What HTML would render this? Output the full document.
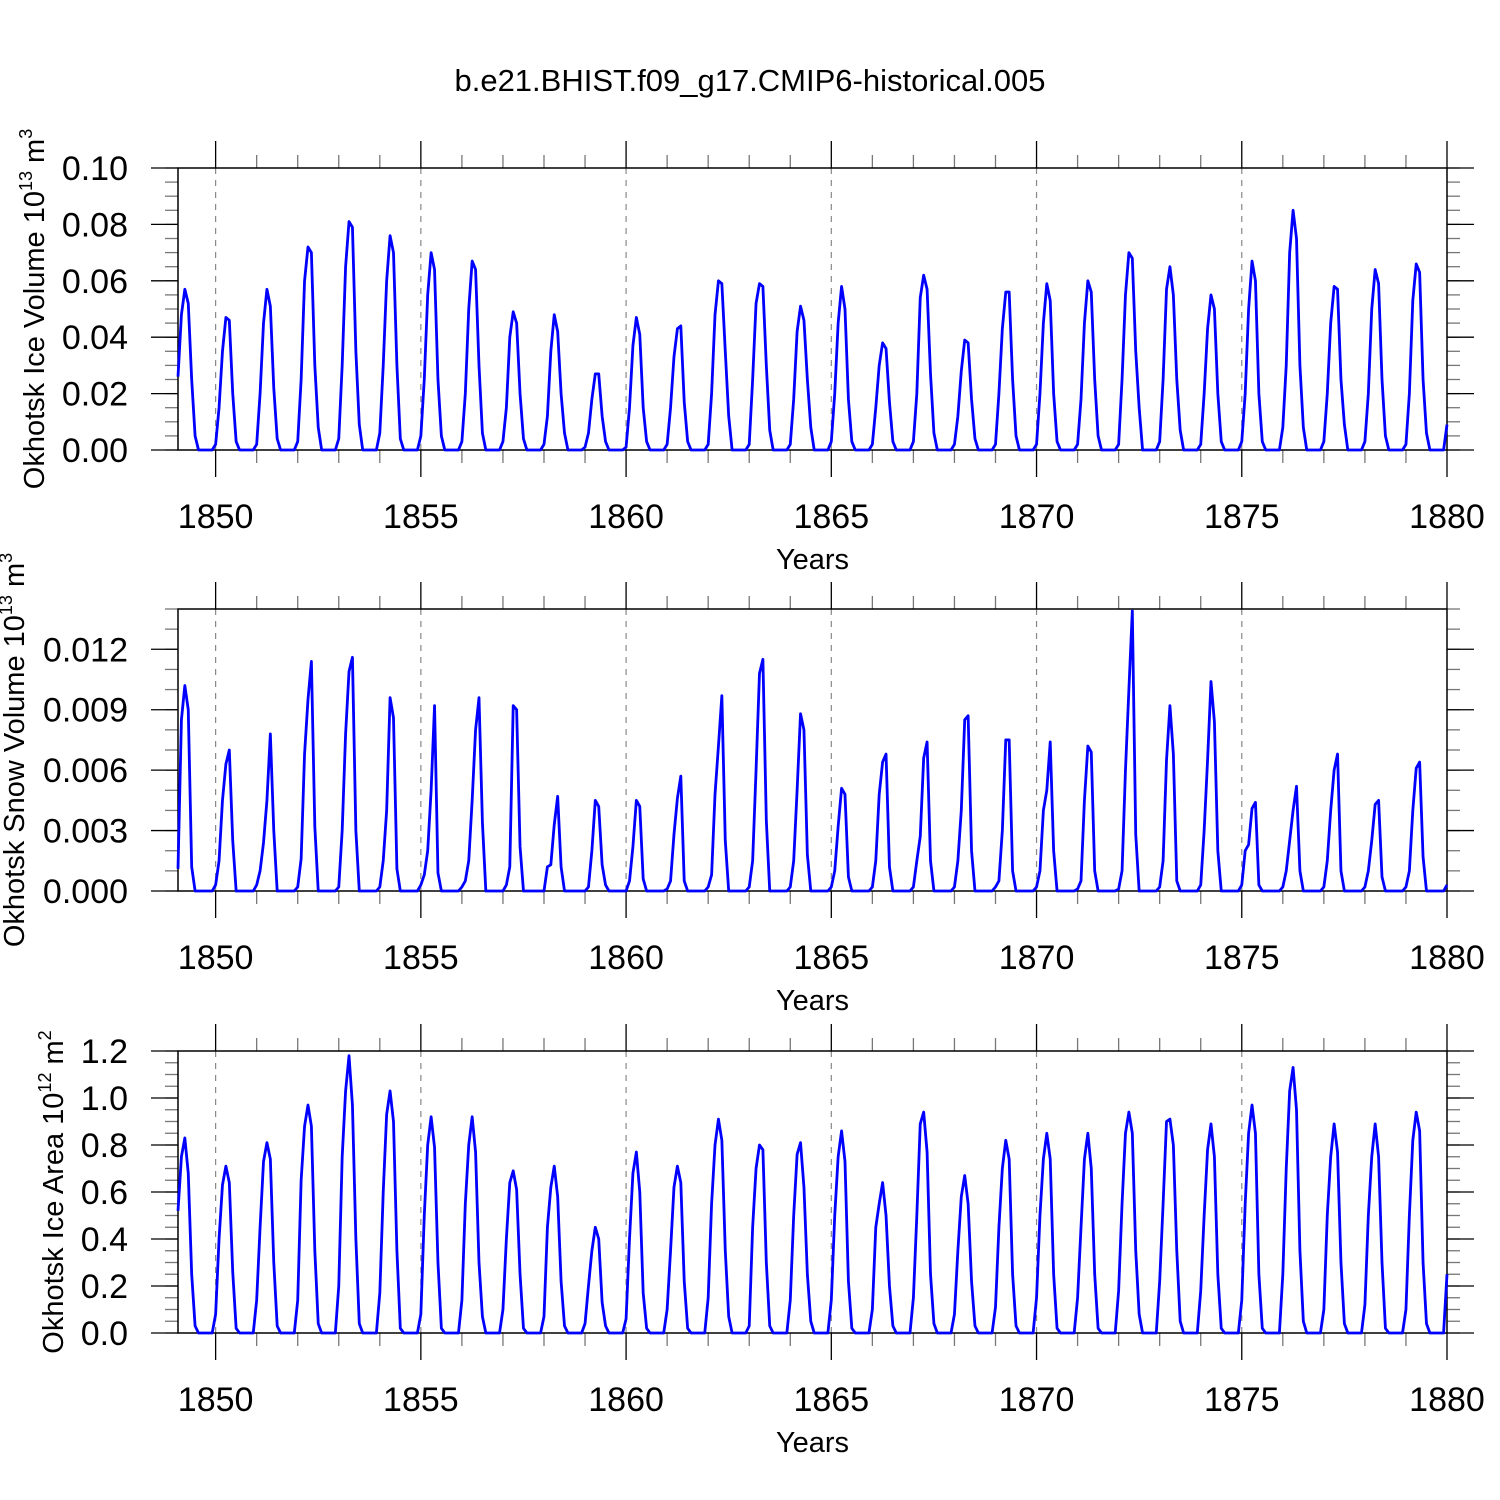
<!DOCTYPE html>
<html><head><meta charset="utf-8"><style>
html,body{margin:0;padding:0;background:#fff;}
svg{display:block;font-family:"Liberation Sans",sans-serif;}
</style></head><body>
<svg id="chart" width="1500" height="1500" viewBox="0 0 1500 1500" xmlns="http://www.w3.org/2000/svg">
<text x="750" y="91" font-size="31" text-anchor="middle">b.e21.BHIST.f09_g17.CMIP6-historical.005</text>
</svg>
<script>
const years = [1849,1850,1851,1852,1853,1854,1855,1856,1857,1858,1859,1860,1861,1862,1863,1864,1865,1866,1867,1868,1869,1870,1871,1872,1873,1874,1875,1876,1877,1878,1879];
const xTickLabels = [1850,1855,1860,1865,1870,1875,1880];
const iceVolume = [
[.026,.048,.057,.052,.025,.005,0,0,0,0,0,.002],
[.015,.035,.047,.046,.020,.003,0,0,0,0,0,.002],
[.020,.045,.057,.051,.022,.004,0,0,0,0,0,.003],
[.025,.060,.072,.070,.030,.008,0,0,0,0,0,.004],
[.030,.065,.081,.079,.035,.009,0,0,0,0,0,.006],
[.030,.060,.076,.070,.030,.004,0,0,0,0,0,.005],
[.025,.055,.070,.064,.025,.005,0,0,0,0,0,.003],
[.020,.050,.067,.064,.030,.006,0,0,0,0,0,.003],
[.015,.040,.049,.045,.020,.004,0,0,0,0,0,.002],
[.012,.035,.048,.042,.020,.006,0,0,0,0,0,.001],
[.006,.018,.027,.027,.012,.003,0,0,0,0,0,.001],
[.015,.037,.047,.041,.015,.003,0,0,0,0,0,.002],
[.015,.033,.043,.044,.017,.003,0,0,0,0,0,.002],
[.020,.048,.060,.059,.035,.012,0,0,0,0,0,.002],
[.025,.052,.059,.058,.030,.007,0,0,0,0,0,.002],
[.018,.042,.051,.046,.025,.008,0,0,0,0,0,.003],
[.020,.045,.058,.050,.018,.003,0,0,0,0,0,.002],
[.015,.030,.038,.036,.017,.003,0,0,0,0,0,.003],
[.020,.054,.062,.057,.027,.006,0,0,0,0,0,.002],
[.012,.028,.039,.038,.018,.004,0,0,0,0,0,.002],
[.020,.043,.056,.056,.025,.005,0,0,0,0,0,.002],
[.020,.045,.059,.053,.020,.003,0,0,0,0,0,.002],
[.018,.045,.060,.056,.025,.005,0,0,0,0,0,.002],
[.025,.055,.070,.068,.035,.015,0,0,0,0,0,.003],
[.025,.057,.065,.055,.025,.007,0,0,0,0,0,.002],
[.020,.043,.055,.050,.020,.003,0,0,0,0,0,.003],
[.020,.050,.067,.060,.020,.003,0,0,0,0,0,.008],
[.030,.070,.085,.075,.030,.008,0,0,0,0,0,.003],
[.020,.045,.058,.057,.025,.009,0,0,0,0,0,.003],
[.020,.050,.064,.059,.025,.005,0,0,0,0,0,.002],
[.020,.053,.066,.063,.025,.006,0,0,0,0,0,.009]];
const snowVolume = [
[.0011,.0085,.0102,.0090,.0012,0,0,0,0,0,0,.0003],
[.0015,.0045,.0063,.0070,.0025,0,0,0,0,0,0,.0003],
[.0010,.0024,.0045,.0078,.0030,0,0,0,0,0,0,.0002],
[.0016,.0068,.0095,.0114,.0032,0,0,0,0,0,0,.0002],
[.0030,.0078,.0109,.0116,.0030,0,0,0,0,0,0,.0002],
[.0015,.0040,.0096,.0086,.0011,0,0,0,0,0,0,.0003],
[.0008,.0020,.0050,.0092,.0009,0,0,0,0,0,0,.0002],
[.0005,.0015,.0045,.0080,.0096,.0034,0,0,0,0,0,0],
[.0003,.0012,.0092,.0090,.0022,0,0,0,0,0,0,0],
[.0012,.0013,.0033,.0047,.0012,0,0,0,0,0,0,0],
[.0002,.0020,.0045,.0042,.0013,.0003,0,0,0,0,0,0],
[.0005,.0022,.0045,.0042,.0006,0,0,0,0,0,0,.0001],
[.0005,.0028,.0046,.0057,.0005,0,0,0,0,0,0,.0002],
[.0008,.0048,.0072,.0097,.0025,0,0,0,0,0,0,.0002],
[.0015,.0060,.0108,.0115,.0035,0,0,0,0,0,0,.0002],
[.0015,.0050,.0088,.0080,.0018,0,0,0,0,0,0,.0002],
[.0010,.0032,.0051,.0048,.0007,0,0,0,0,0,0,.0002],
[.0015,.0048,.0064,.0068,.0012,0,0,0,0,0,0,.0002],
[.0015,.0027,.0066,.0074,.0015,0,0,0,0,0,0,.0002],
[.0015,.0040,.0085,.0087,.0020,0,0,0,0,0,0,.0002],
[.0005,.0030,.0075,.0075,.0010,0,0,0,0,0,0,.0002],
[.0010,.0040,.0050,.0074,.0020,0,0,0,0,0,0,.0001],
[.0005,.0045,.0072,.0069,.0010,0,0,0,0,0,0,.0001],
[.0010,.0060,.0100,.0139,.0028,0,0,0,0,0,0,.0002],
[.0015,.0065,.0092,.0068,.0005,0,0,0,0,0,0,.0003],
[.0030,.0065,.0104,.0084,.0020,0,0,0,0,0,0,.0003],
[.0020,.0023,.0041,.0044,.0003,0,0,0,0,0,0,.0002],
[.0010,.0025,.0040,.0052,.0010,0,0,0,0,0,0,.0002],
[.0015,.0040,.0060,.0068,.0010,0,0,0,0,0,0,.0002],
[.0010,.0025,.0043,.0045,.0007,0,0,0,0,0,0,.0002],
[.0010,.0040,.0061,.0064,.0017,0,0,0,0,0,0,.0003]];
const iceArea = [
[.52,.75,.83,.68,.25,.03,0,0,0,0,0,.08],
[.40,.63,.71,.64,.26,.02,0,0,0,0,0,.14],
[.45,.73,.81,.74,.30,.03,0,0,0,0,0,.14],
[.65,.88,.97,.88,.35,.04,0,0,0,0,0,.20],
[.75,1.03,1.18,.97,.40,.04,0,0,0,0,0,.17],
[.60,.93,1.03,.90,.35,.02,0,0,0,0,0,.08],
[.50,.80,.92,.79,.30,.02,0,0,0,0,0,.14],
[.55,.80,.92,.77,.30,.07,0,0,0,0,0,.10],
[.40,.64,.69,.61,.25,.02,0,0,0,0,0,.07],
[.45,.62,.71,.58,.22,.03,0,0,0,0,0,.04],
[.20,.35,.45,.40,.13,.03,0,0,0,0,0,.06],
[.40,.68,.77,.60,.17,.02,0,0,0,0,0,.10],
[.35,.62,.71,.64,.22,.02,0,0,0,0,0,.15],
[.55,.80,.91,.82,.35,.07,0,0,0,0,0,.03],
[.45,.70,.80,.78,.30,.03,0,0,0,0,0,.14],
[.50,.76,.81,.62,.25,.05,0,0,0,0,0,.14],
[.50,.75,.86,.73,.22,.02,0,0,0,0,0,.10],
[.45,.55,.64,.50,.20,.03,0,0,0,0,0,.15],
[.50,.89,.94,.77,.25,.04,0,0,0,0,0,.08],
[.35,.58,.67,.55,.22,.03,0,0,0,0,0,.11],
[.45,.70,.82,.74,.25,.03,0,0,0,0,0,.15],
[.50,.74,.85,.74,.25,.02,0,0,0,0,0,.15],
[.45,.74,.85,.70,.25,.02,0,0,0,0,0,.18],
[.55,.85,.94,.85,.35,.08,0,0,0,0,0,.22],
[.55,.90,.91,.80,.35,.05,0,0,0,0,0,.18],
[.50,.78,.89,.75,.25,.02,0,0,0,0,0,.14],
[.55,.85,.97,.85,.25,.02,0,0,0,0,0,.25],
[.70,1.03,1.13,.95,.35,.05,0,0,0,0,0,.10],
[.50,.75,.89,.77,.30,.04,0,0,0,0,0,.12],
[.50,.75,.89,.75,.30,.02,0,0,0,0,0,.10],
[.50,.82,.94,.86,.30,.04,0,0,0,0,0,.25]];
const volTicks = [0,0.02,0.04,0.06,0.08,0.10];
const volTickLabels = ["0.00","0.02","0.04","0.06","0.08","0.10"];
const snowTicks = [0,0.003,0.006,0.009,0.012];
const snowTickLabels = ["0.000","0.003","0.006","0.009","0.012"];
const areaTicks = [0,0.2,0.4,0.6,0.8,1.0,1.2];
const areaTickLabels = ["0.0","0.2","0.4","0.6","0.8","1.0","1.2"];

const NS = "http://www.w3.org/2000/svg";
const svg = document.getElementById('chart');
const L = 178, R = 1447, H = 282;
const T0 = 1849 + 1/12, T1 = 1880;
function xScale(t){ return L + (t - T0) / (T1 - T0) * (R - L); }
function mk(tag, attrs, parent){
  const e = document.createElementNS(NS, tag);
  for (const k in attrs) e.setAttribute(k, attrs[k]);
  (parent || svg).appendChild(e);
  return e;
}
const panels = [
  {name:'ice-volume', top:168, ymax:0.10, minor:0.005, ticks:volTicks, labels:volTickLabels, data:iceVolume, titleX:44, title:['Okhotsk Ice Volume 10','13',' m','3']},
  {name:'snow-volume', top:609, ymax:0.014, minor:0.001, ticks:snowTicks, labels:snowTickLabels, data:snowVolume, titleX:24, title:['Okhotsk Snow Volume 10','13',' m','3']},
  {name:'ice-area', top:1051, ymax:1.2, minor:0.05, ticks:areaTicks, labels:areaTickLabels, data:iceArea, titleX:63, title:['Okhotsk Ice Area 10','12',' m','2']}
];
panels.forEach(p => {
  const g = mk('g', {});
  
  
  const B = p.top + H;
  const yScale = v => B - v / p.ymax * H;
  xTickLabels.forEach(yr => {
    const x = xScale(yr);
    if (x > L + 1 && x < R - 1) {
      const gl = mk('line', {x1:x, x2:x, y1:p.top, y2:B, stroke:'#888', 'stroke-width':1.2, 'stroke-dasharray':'6,6'}, g);
      
      
    }
  });
  for (let yr = 1849; yr <= 1880; yr++) {
    const x = xScale(yr);
    if (x < L - 0.5) continue;
    const major = yr % 5 === 0;
    const len = major ? 27 : 13;
    const c = major ? '#000' : '#777';
    mk('line', {x1:x, x2:x, y1:p.top, y2:p.top - len, stroke:c, 'stroke-width':1.3}, g);
    mk('line', {x1:x, x2:x, y1:B, y2:B + len, stroke:c, 'stroke-width':1.3}, g);
  }
  const nMin = Math.round(p.ymax / p.minor);
  for (let i = 0; i <= nMin; i++) {
    const y = yScale(i * p.minor);
    mk('line', {x1:L, x2:L - 13, y1:y, y2:y, stroke:'#777', 'stroke-width':1.3}, g);
    mk('line', {x1:R, x2:R + 13, y1:y, y2:y, stroke:'#777', 'stroke-width':1.3}, g);
  }
  p.ticks.forEach((v, i) => {
    const y = yScale(v);
    mk('line', {x1:L, x2:L - 27, y1:y, y2:y, stroke:'#000', 'stroke-width':1.3}, g);
    mk('line', {x1:R, x2:R + 27, y1:y, y2:y, stroke:'#000', 'stroke-width':1.3}, g);
    const t = mk('text', {x:128, y:y + 12, 'font-size':34, 'text-anchor':'end'}, g);
    
    
    t.textContent = p.labels[i];
  });
  xTickLabels.forEach(yr => {
    const t = mk('text', {x:xScale(yr), y:B + 78, 'font-size':34, 'text-anchor':'middle'}, g);
    
    
    t.textContent = yr;
  });
  const xt = mk('text', {x:(L + R) / 2, y:B + 119, 'font-size':29, 'text-anchor':'middle'}, g);
  
  
  xt.textContent = 'Years';
  const yt = mk('text', {x:0, y:0, 'font-size':29, 'text-anchor':'middle', transform:'translate(' + p.titleX + ',' + (p.top + H / 2) + ') rotate(-90)'}, g);
  
  
  const s1 = mk('tspan', {}, yt); s1.textContent = p.title[0];
  const s2 = mk('tspan', {dy:-12, 'font-size':18}, yt); s2.textContent = p.title[1];
  const s3 = mk('tspan', {dy:12}, yt); s3.textContent = p.title[2];
  const s4 = mk('tspan', {dy:-12, 'font-size':18}, yt); s4.textContent = p.title[3];
  const fr = mk('rect', {x:L, y:p.top, width:R - L, height:H, fill:'none', stroke:'#000', 'stroke-width':1.5}, g);
  
  
  const pts = [];
  years.forEach((yr, yi) => {
    p.data[yi].forEach((v, m) => {
      pts.push(xScale(yr + (m + 1) / 12).toFixed(2) + ',' + yScale(v).toFixed(2));
    });
  });
  const line = mk('polyline', {points:pts.join(' '), fill:'none', stroke:'#0000ff', 'stroke-width':2.8, 'stroke-linejoin':'round'}, g);
  
  
});
</script>
</body></html>
